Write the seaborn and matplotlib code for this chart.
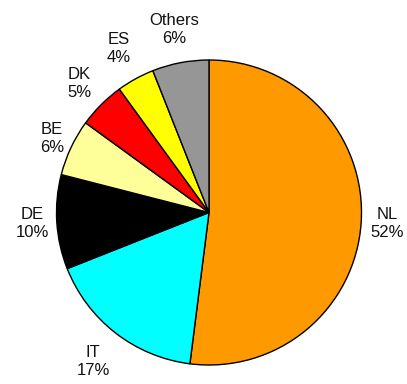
import numpy as np
import matplotlib
matplotlib.use("Agg")
import matplotlib.pyplot as plt
import seaborn as sns

# Share by country
countries = ["NL", "IT", "DE", "BE", "DK", "ES", "Others"]
shares = [52, 17, 10, 6, 5, 4, 6]

# Slice fill colours
slice_colors = ["#FF9900", "#00FFFF", "#000000", "#FFFF99", "#FF0000", "#FFFF00", "#969696"]
# Radial offset of each label (in pie radii)
label_radius = [1.17, 1.24, 1.16, 1.14, 1.20, 1.23, 1.22]

sns.set_style("white")
plt.rcParams["font.family"] = ["Liberation Sans", "DejaVu Sans"]

W, H, DPI = 407, 384, 100
fig = plt.figure(figsize=(W / DPI, H / DPI), dpi=DPI)
ax = fig.add_axes([0, 0, 1, 1])

wedges, _ = ax.pie(
    shares,
    colors=slice_colors,
    startangle=90,
    counterclock=False,
    wedgeprops=dict(edgecolor="black", linewidth=1.0),
)

for w, name, val, rad in zip(wedges, countries, shares, label_radius):
    mid = np.deg2rad((w.theta1 + w.theta2) / 2)
    ax.text(rad * np.cos(mid), rad * np.sin(mid), f"{name}\n{val}%",
            ha="center", va="center", fontsize=12, color="#111111",
            linespacing=1.25)

# Pie centre and radius in pixels
cx, cy, r = 209, 212.5, 152.5
ax.set_xlim(-cx / r, (W - cx) / r)
ax.set_ylim(-(H - cy) / r, cy / r)
ax.set_aspect("auto")
ax.axis("off")

fig.savefig("out.png", dpi=DPI, facecolor="white")
